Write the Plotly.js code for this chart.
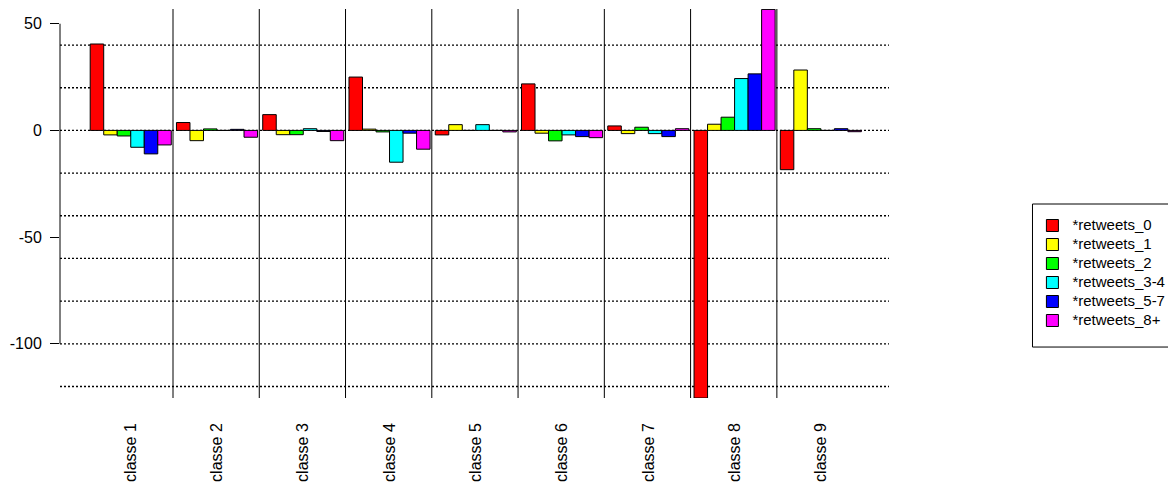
<!DOCTYPE html>
<html>
<head>
<meta charset="utf-8">
<script src="https://cdn.plot.ly/plotly-3.0.1.min.js"></script>
<style>html,body{margin:0;padding:0;background:#fff;}#chart{width:1168px;height:486px;}</style>
</head>
<body>
<div id="chart"></div>
<script>
const categories = ['classe 1','classe 2','classe 3','classe 4','classe 5','classe 6','classe 7','classe 8','classe 9'];
const seriesNames = ['*retweets_0','*retweets_1','*retweets_2','*retweets_3-4','*retweets_5-7','*retweets_8+'];
const seriesColors = ['#FF0000','#FFFF00','#00FF00','#00FFFF','#0000FF','#FF00FF'];
const retweets0  = [40.5, 3.7, 7.4, 25.0, -2.1, 21.8, 2.1, -125.4, -18.4];
const retweets1  = [-2.1, -4.8, -2.0, 0.6, 2.7, -1.3, -1.5, 2.9, 28.3];
const retweets2  = [-2.6, 0.7, -2.0, -0.7, 0, -4.9, 1.5, 6.2, 0.8];
const retweets34 = [-7.9, 0, 0.8, -14.9, 2.7, -2.1, -1.5, 24.3, 0];
const retweets57 = [-11.0, 0.5, -0.5, -1.3, 0, -2.9, -2.9, 26.5, 0.8];
const retweets8p = [-6.8, -3.2, -4.8, -8.8, -0.7, -3.4, 0.8, 56.7, -0.6];
const yTickVals = [-100, -50, 0, 50];
const gridLevels = [-120, -100, -80, -60, -40, -20, 0, 20, 40];

const seriesValues = [retweets0, retweets1, retweets2, retweets34, retweets57, retweets8p];
const FONT = '"Liberation Sans", Arial, sans-serif';

const traces = seriesNames.map((name, i) => ({
  type: 'bar',
  name: '<span style="font-size:15px">' + name + '</span>',
  x: categories,
  y: seriesValues[i],
  marker: {color: seriesColors[i], line: {color: '#000', width: 1}},
  hoverinfo: 'x+y'
}));

const shapes = [];
gridLevels.forEach(v => shapes.push({
  type: 'line', layer: 'below', xref: 'paper', x0: 0, x1: 1, yref: 'y', y0: v, y1: v,
  line: {color: '#000', width: 1.3, dash: '2px,2px'}
}));
for (let i = 0; i < categories.length - 1; i++) {
  shapes.push({
    type: 'line', layer: 'below', xref: 'x', x0: i + 0.49, x1: i + 0.49, yref: 'paper', y0: 0, y1: 1,
    line: {color: '#000', width: 1}
  });
}
shapes.push({
  type: 'line', layer: 'above', xref: 'paper', x0: 0, x1: 0, yref: 'y',
  y0: Math.min(...yTickVals), y1: Math.max(...yTickVals),
  line: {color: '#000', width: 1}
});
// legend frame
shapes.push({
  type: 'rect', layer: 'above', xref: 'paper', yref: 'paper',
  x0: 1.1731, x1: 1.45, y0: 0.131, y1: 0.4987,
  line: {color: '#000', width: 1}, fillcolor: 'rgba(0,0,0,0)'
});

const layout = {
  width: 1168, height: 486,
  margin: {l: 60, r: 279, t: 9, b: 88, autoexpand: false},
  paper_bgcolor: '#fff', plot_bgcolor: '#fff',
  font: {family: FONT, size: 16, color: '#000'},
  barmode: 'group', bargap: 0.06, bargroupgap: 0,
  showlegend: true,
  legend: {
    x: 1.173, xanchor: 'left', y: 0.4807, yanchor: 'top',
    borderwidth: 0, bgcolor: 'rgba(0,0,0,0)',
    font: {family: FONT, size: 11.8, color: '#000'},
    traceorder: 'normal'
  },
  xaxis: {
    type: 'category', range: [-0.82, 8.79],
    showgrid: false, zeroline: false, showline: false,
    ticks: '', tickangle: -90, ticklabelstandoff: 21,
    tickfont: {family: FONT, size: 16, color: '#000'}
  },
  yaxis: {
    range: [-125.4, 56.9],
    showgrid: false, zeroline: false, showline: false,
    tickvals: yTickVals, ticktext: yTickVals.map(String),
    ticks: 'outside', ticklen: 9, tickwidth: 1, tickcolor: '#000',
    ticklabelstandoff: 5,
    tickfont: {family: FONT, size: 16, color: '#000'}
  },
  shapes: shapes
};

Plotly.newPlot('chart', traces, layout, {displayModeBar: false, staticPlot: true});
</script>
</body>
</html>
